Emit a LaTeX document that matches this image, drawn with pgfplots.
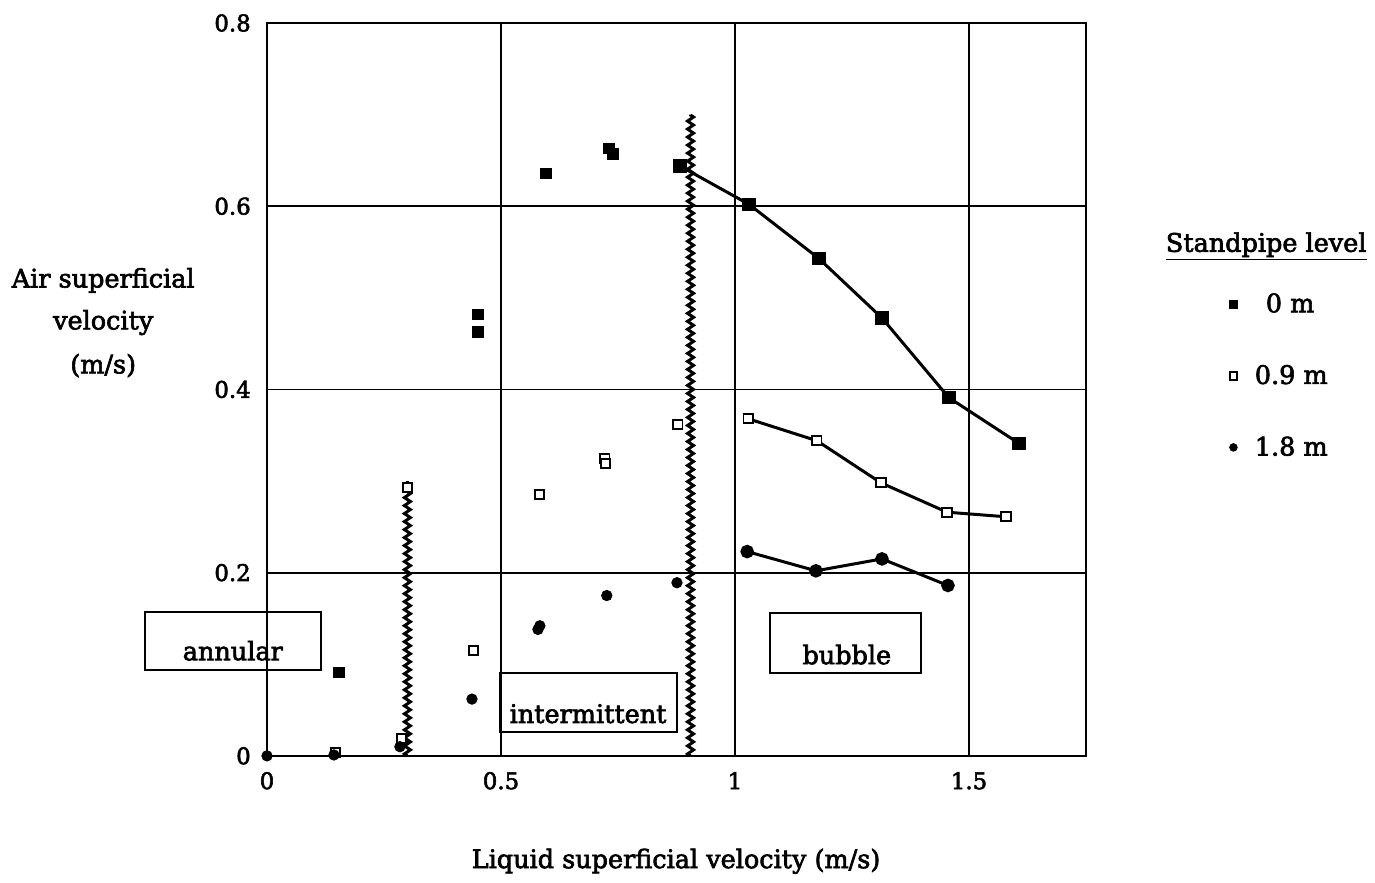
\documentclass[border=0pt]{standalone}
\usepackage{pgfplots}
\pgfplotsset{compat=1.18}
\usepackage{fontspec}
\setmainfont{DejaVu Serif}[RawFeature={embolden=2.5}]
\usetikzlibrary{decorations.pathmorphing}

\newcommand{\chartfont}{\fontsize{14.5}{17}\selectfont}
\newcommand{\tickfont}{\fontsize{13}{15}\selectfont}

\begin{document}
\begin{tikzpicture}[font=\chartfont]
\begin{axis}[
  scale only axis,
  width=16.36cm, height=14.64cm,
  xmin=0, xmax=1.75, ymin=0, ymax=0.8,
  xtick={0,0.5,1,1.5}, xticklabels={0,0.5,1,1.5},
  ytick={0,0.2,0.4,0.6,0.8}, yticklabels={0,0.2,0.4,0.6,0.8},
  /pgf/number format/assume math mode=true,
  grid=major,
  major grid style={black, line width=1pt},
  axis line style={line width=1.4pt},
  major tick length=0pt,
  tick label style={font=\tickfont},
  yticklabel style={xshift=-0.2cm},
  xticklabel style={yshift=-0.2cm},
  clip=false,
  legend style={draw=none, fill=none, font=\chartfont,
    at={(axis cs:2.056,0.508)}, anchor=north west,
    row sep=0.9cm, inner sep=0pt,
    nodes={inner sep=0.05cm},
    /tikz/every odd column/.append style={column sep=0.3cm}},
  legend cell align=left,
  legend image post style={mark size=2.2pt},
]
% extent of the whole figure
\path (axis cs:-0.5705,-0.1377) rectangle (axis cs:2.3675,0.8251);

% scattered points (legend entries)
\addplot[only marks, mark=square*, mark size=3.0pt, black]
  coordinates {(0.154,0.091) (0.451,0.482) (0.451,0.463)
    (0.596,0.636) (0.731,0.663) (0.739,0.657)};
\addlegendentry{\hspace{0.22cm}0 m}
\addplot[only marks, mark=square*, mark size=2.6pt, black,
  mark options={fill=white, line width=1.1pt}]
  coordinates {(0.147,0.004) (0.288,0.019) (0.300,0.293) (0.442,0.115)
    (0.583,0.285) (0.722,0.325) (0.724,0.319) (0.878,0.362)};
\addlegendentry{0.9 m}
\addplot[only marks, mark=*, mark size=3.0pt, black]
  coordinates {(0,0) (0.143,0.001) (0.284,0.010) (0.438,0.062)
    (0.579,0.138) (0.583,0.142) (0.726,0.175) (0.876,0.189)};
\addlegendentry{1.8 m}

% bubble-regime curves
\addplot[forget plot, black, line width=1.7pt, mark=square*, mark size=3.0pt]
  coordinates {(0.882,0.644) (1.030,0.602) (1.179,0.543) (1.314,0.478)
    (1.457,0.391) (1.607,0.341)};
\addplot[forget plot, black, line width=1.7pt, mark=square*, mark size=2.6pt,
  mark options={fill=white, line width=1.1pt}]
  coordinates {(1.028,0.368) (1.175,0.344) (1.312,0.298) (1.453,0.266)
    (1.579,0.261)};
\addplot[forget plot, black, line width=1.7pt, mark=*, mark size=3.0pt]
  coordinates {(1.026,0.223) (1.173,0.202) (1.314,0.215) (1.455,0.186)};

% regime boundaries
\draw[line width=1.7pt, decorate,
  decoration={zigzag, amplitude=0.06cm, segment length=0.16cm}]
  (axis cs:0.300,0) -- (axis cs:0.300,0.30);
\draw[line width=1.7pt, decorate,
  decoration={zigzag, amplitude=0.06cm, segment length=0.16cm}]
  (axis cs:0.905,0) -- (axis cs:0.905,0.70);

% regime labels
\draw[line width=1.3pt] (axis cs:-0.261,0.094) rectangle (axis cs:0.115,0.157);
\node at (axis cs:-0.073,0.1148) {annular};
\draw[line width=1.3pt] (axis cs:0.498,0.0262) rectangle (axis cs:0.876,0.0907);
\node at (axis cs:0.686,0.0460) {intermittent};
\draw[line width=1.3pt] (axis cs:1.075,0.0907) rectangle (axis cs:1.397,0.1563);
\node at (axis cs:1.239,0.1105) {bubble};

% axis titles
\node at (axis cs:-0.350,0.519) {Air superficial};
\node at (axis cs:-0.350,0.473) {velocity};
\node at (axis cs:-0.350,0.426) {(m/s)};
\node at (axis cs:0.874,-0.115) {Liquid superficial velocity (m/s)};

% legend heading
\node at (axis cs:2.135,0.556) {\underline{Standpipe level}};
\end{axis}
\end{tikzpicture}
\end{document}
